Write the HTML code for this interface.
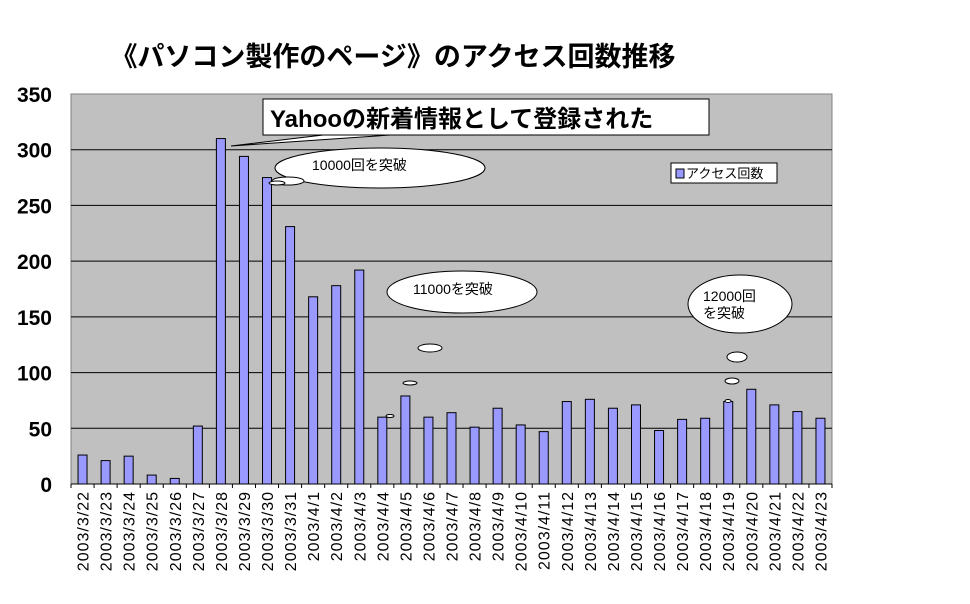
<!DOCTYPE html>
<html><head><meta charset="utf-8"><style>
body{margin:0;background:#fff;}
svg{display:block;font-family:"Liberation Sans","Noto Sans CJK JP",sans-serif;}
</style></head><body>
<svg width="970" height="604" viewBox="0 0 970 604">
<text x="393" y="66" text-anchor="middle" font-size="27" font-weight="bold" fill="#000">《パソコン製作のページ》のアクセス回数推移</text>
<rect x="71" y="94" width="761" height="390" fill="#c0c0c0" stroke="#808080"/>
<g id="grid"></g>
<g id="bars"></g>
<g id="xaxis"></g>
<g>
<polygon points="231,146 340,133 420,133" fill="#fff" stroke="#000"/>
<rect x="263" y="99" width="446" height="36" fill="#fff" stroke="#000"/>
<text x="270" y="127" font-size="24" font-weight="bold">Yahooの新着情報として登録された</text>
</g>
<g fill="#fff" stroke="#000">
<ellipse cx="380" cy="168" rx="105" ry="20"/>
<ellipse cx="288" cy="181" rx="16" ry="4"/>
<ellipse cx="277" cy="183" rx="8" ry="2"/>
<text x="312" y="170" font-size="14" stroke="none" fill="#000">10000回を突破</text>
</g>
<g fill="#fff" stroke="#000">
<ellipse cx="462" cy="292" rx="75" ry="21"/>
<ellipse cx="430" cy="348" rx="12" ry="4"/>
<ellipse cx="410" cy="383" rx="7" ry="2"/>
<ellipse cx="390" cy="416" rx="4" ry="1.5"/>
<text x="413" y="294" font-size="14" stroke="none" fill="#000">11000を突破</text>
</g>
<g fill="#fff" stroke="#000">
<ellipse cx="740" cy="304" rx="52" ry="29"/>
<ellipse cx="737" cy="357" rx="10" ry="5"/>
<ellipse cx="732" cy="381" rx="7" ry="3"/>
<ellipse cx="728" cy="401" rx="3" ry="1.5"/>
<text x="703" y="301" font-size="14" stroke="none" fill="#000">12000回</text>
<text x="703" y="318" font-size="14" stroke="none" fill="#000">を突破</text>
</g>
<g>
<rect x="671" y="163" width="106" height="20" fill="#fff" stroke="#000"/>
<rect x="676" y="169" width="8" height="9" fill="#9999ff" stroke="#000"/>
<text x="686" y="178" font-size="13">アクセス回数</text>
</g>
</svg>
<script>
const categories=["2003/3/22","2003/3/23","2003/3/24","2003/3/25","2003/3/26","2003/3/27","2003/3/28","2003/3/29","2003/3/30","2003/3/31","2003/4/1","2003/4/2","2003/4/3","2003/4/4","2003/4/5","2003/4/6","2003/4/7","2003/4/8","2003/4/9","2003/4/10","2003/4/11","2003/4/12","2003/4/13","2003/4/14","2003/4/15","2003/4/16","2003/4/17","2003/4/18","2003/4/19","2003/4/20","2003/4/21","2003/4/22","2003/4/23"];
const accessCounts=[26,21,25,8,5,52,310,294,275,231,168,178,192,60,79,60,64,51,68,53,47,74,76,68,71,48,58,59,74,85,71,65,59];
const yTicks=[0,50,100,150,200,250,300,350];
const NS="http://www.w3.org/2000/svg";
const X0=71,X1=832,Y0=484,Y1=94,YMAX=350;
const band=(X1-X0)/categories.length;
function y(v){return Y0-(v/YMAX)*(Y0-Y1);}
function xc(i){return X0+band*(i+0.5);}
function mk(t,a,p){const e=document.createElementNS(NS,t);for(const k in a)e.setAttribute(k,a[k]);p.appendChild(e);return e;}
const grid=document.getElementById('grid');
yTicks.forEach(v=>{
 if(v>0&&v<YMAX){const l=mk('line',{x1:X0,x2:X1,y1:y(v),y2:y(v),stroke:'#000'},grid);
 
 }
 const t=mk('text',{x:52,y:y(v)+8,'text-anchor':'end','font-size':'21','font-weight':'bold'},grid);
 
 
 t.textContent=v;
});
const bars=document.getElementById('bars');
accessCounts.forEach((v,i)=>{
 const r=mk('rect',{x:xc(i)-4.5,y:y(v),width:9,height:Y0-y(v),fill:'#9999ff',stroke:'#000','stroke-width':'1'},bars);
 
 
});
const xa=document.getElementById('xaxis');
const ax=mk('line',{x1:X0,x2:X1,y1:Y0,y2:Y0,stroke:'#000'},xa);


categories.forEach((c,i)=>{
 mk('line',{x1:X0+band*i,x2:X0+band*i,y1:Y0,y2:Y0+4,stroke:'#000'},xa);
 const t=mk('text',{transform:'translate('+(xc(i)+6)+',491) rotate(-90)','text-anchor':'end','font-size':'16','letter-spacing':'1'},xa);
 
 
 t.textContent=c;
});
mk('line',{x1:X1,x2:X1,y1:Y0,y2:Y0+4,stroke:'#000'},xa);
</script>
</body></html>
